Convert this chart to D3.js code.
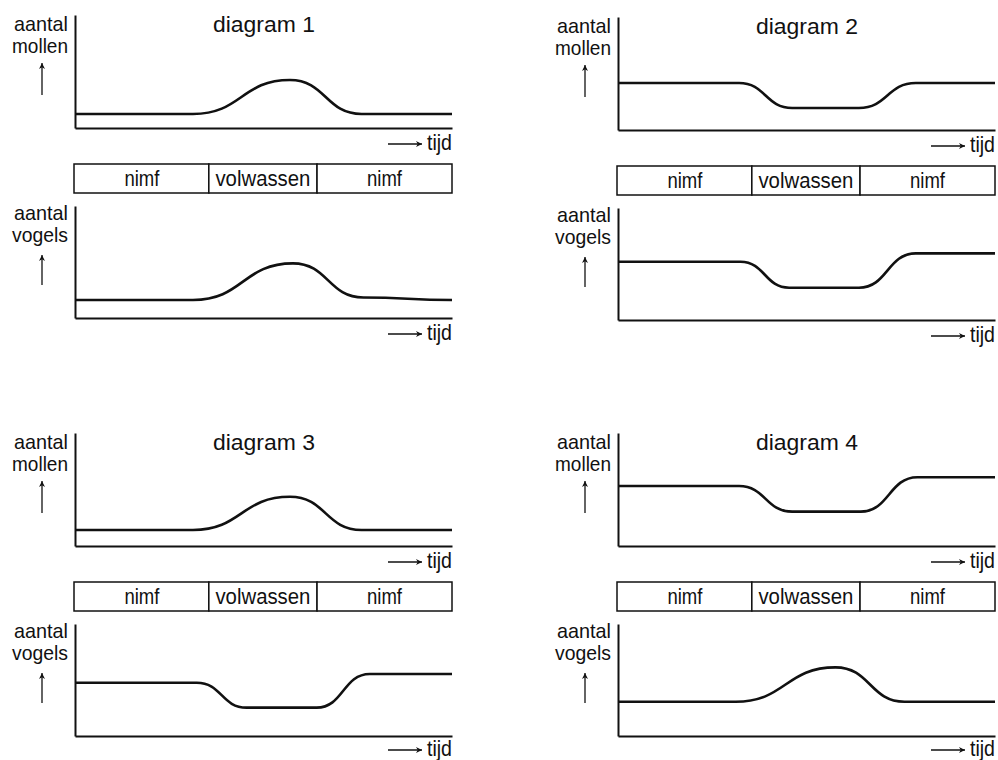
<!DOCTYPE html>
<html>
<head>
<meta charset="utf-8">
<script src="https://cdn.jsdelivr.net/npm/d3@7"></script>
<style>
  html, body { margin: 0; padding: 0; background: #fff; }
  svg { display: block; }
  text { font-family: "Liberation Sans Narrow", "Liberation Sans", Arial, sans-serif; fill: #111; }
</style>
</head>
<body>
<svg id="chart" width="998" height="760"></svg>
<script>
// ---------- data ----------
const diagramTitles = ["diagram 1", "diagram 2", "diagram 3", "diagram 4"];
const stageLabels = ["nimf", "volwassen", "nimf"];
const stageBounds = [0, 35.5, 64.2, 100];   // time units
const yLabelMollen = ["aantal", "mollen"];
const yLabelVogels = ["aantal", "vogels"];
const xLabel = "tijd";

// key points [time, amount] on 0..100 scales (plateau ends, peaks)
const mollen1 = [[0,12.4],[31.3,12.4],[57,42.5],[76,12.4],[100,12.4]];
const vogels1 = [[0,16.1],[31.3,16.1],[57.8,48.8],[76.5,18.3],[100,16.1]];
const mollen2 = [[0,41.6],[32.1,41.6],[46.2,19.5],[63.9,19.5],[79,41.6],[100,41.6]];
const vogels2 = [[0,52],[32.5,52],[45.4,28.8],[63.9,28.8],[79,59.5],[100,59.5]];
const mollen3 = [[0,14.2],[31.3,14.2],[57,43.6],[76,14.2],[100,14.2]];
const vogels3 = [[0,47.6],[32.3,47.6],[45.5,25.3],[64.1,25.3],[78.2,55.4],[100,55.4]];
const mollen4 = [[0,53.1],[32.1,53.1],[46.2,30.4],[64.4,30.4],[79.4,60.8],[100,60.8]];
const vogels4 = [[0,30.6],[31.2,30.6],[57.7,61.3],[76,30.6],[100,30.6]];

const mollenSeries = [mollen1, mollen2, mollen3, mollen4];
const vogelsSeries = [vogels1, vogels2, vogels3, vogels4];

// ---------- layout ----------
const offsets = [[0,0],[543,2],[0,418],[543,418]];
const X0 = 75, X1 = 452;
const panelMollen = {top: 15, bottom: 128};
const panelVogels = {top: 206, bottom: 318};
const bar = {top: 164, bottom: 193};

const svg = d3.select("#chart");
const defs = svg.append("defs");
defs.append("marker").attr("id","headUp").attr("viewBox","0 0 10 10")
  .attr("refX",5).attr("refY",0).attr("markerWidth",6).attr("markerHeight",9)
  .attr("markerUnits","userSpaceOnUse").attr("orient","0")
  .append("path").attr("d","M0,10 L5,0 L10,10 L5,7 Z").attr("fill","#111");
defs.append("marker").attr("id","headRight").attr("viewBox","0 0 10 10")
  .attr("refX",10).attr("refY",5).attr("markerWidth",10).attr("markerHeight",6)
  .attr("markerUnits","userSpaceOnUse").attr("orient","0")
  .append("path").attr("d","M0,0 L10,5 L0,10 L3,5 Z").attr("fill","#111");

const x = d3.scaleLinear().domain([0,100]).range([X0, X1]);
const line = (y) => d3.line().x(d => x(d[0])).y(d => y(d[1])).curve(d3.curveBumpX);

function fitText(sel, len) {
  sel.attr("textLength", len).attr("lengthAdjust", "spacingAndGlyphs");
}

function panel(g, p, series, labels, lab1, lab2, arrowTop, arrowBot, tijdOff) {
  const y = d3.scaleLinear().domain([0,100]).range([p.bottom, p.top]);
  const ax = g.append("g").attr("transform", `translate(${X0},0)`)
    .call(d3.axisLeft(y).tickValues([]).tickSizeOuter(0));
  const bx = g.append("g").attr("transform", `translate(0,${p.bottom})`)
    .call(d3.axisBottom(x).tickValues([]).tickSizeOuter(0));
  [ax, bx].forEach(a => a.select(".domain").attr("stroke","#111").attr("stroke-width",2));
  g.append("path").datum(series).attr("d", line(y)).attr("fill","none")
    .attr("stroke","#111").attr("stroke-width",2.6).attr("stroke-linejoin","round");
  const t1 = g.append("text").attr("x", X0 - 7).attr("y", p.top + lab1)
    .attr("text-anchor","end").attr("font-size",21).text(labels[0]);
  fitText(t1, 54);
  const t2 = g.append("text").attr("x", X0 - 7).attr("y", p.top + lab2)
    .attr("text-anchor","end").attr("font-size",21).text(labels[1]);
  fitText(t2, 56);
  g.append("line").attr("x1",42).attr("x2",42)
    .attr("y1", p.top + arrowBot).attr("y2", p.top + arrowTop)
    .attr("stroke","#111").attr("stroke-width",1.3).attr("marker-end","url(#headUp)");
  const tb = p.bottom + tijdOff;
  const tt = g.append("text").attr("x", X1).attr("y", tb).attr("text-anchor","end")
    .attr("font-size",22).text(xLabel);
  fitText(tt, 25);
  g.append("line").attr("x1", X1 - 64).attr("x2", X1 - 30)
    .attr("y1", tb - 6).attr("y2", tb - 6)
    .attr("stroke","#111").attr("stroke-width",1.3).attr("marker-end","url(#headRight)");
}

offsets.forEach((o, i) => {
  const g = svg.append("g").attr("transform", `translate(${o[0]},${o[1]})`);
  const tt = g.append("text").attr("x", 264).attr("y", 32).attr("text-anchor","middle")
    .attr("font-size",22).style("font-family","'Liberation Sans', Arial, sans-serif")
    .text(diagramTitles[i]);
  fitText(tt, 102);
  panel(g, panelMollen, mollenSeries[i], yLabelMollen, 16, 38, 48, 80, 22);
  panel(g, panelVogels, vogelsSeries[i], yLabelVogels, 14, 36, 49, 79, i >= 2 ? 20 : 22);
  const sb = g.append("g");
  sb.selectAll("rect").data(stageLabels).join("rect")
    .attr("x", (d, k) => x(stageBounds[k]) - (k === 0 ? 1 : 0))
    .attr("y", bar.top)
    .attr("width", (d, k) => x(stageBounds[k+1]) - x(stageBounds[k]) + (k === 0 ? 1 : 0))
    .attr("height", bar.bottom - bar.top)
    .attr("fill","#fff").attr("stroke","#111").attr("stroke-width",1.5);
  sb.selectAll("text").data(stageLabels).join("text")
    .attr("x", (d, k) => (x(stageBounds[k]) + x(stageBounds[k+1])) / 2)
    .attr("y", bar.bottom - 7)
    .attr("text-anchor","middle").attr("font-size",22)
    .attr("textLength", d => d === "nimf" ? 35 : 95)
    .attr("lengthAdjust","spacingAndGlyphs")
    .text(d => d);
});
</script>
</body>
</html>
